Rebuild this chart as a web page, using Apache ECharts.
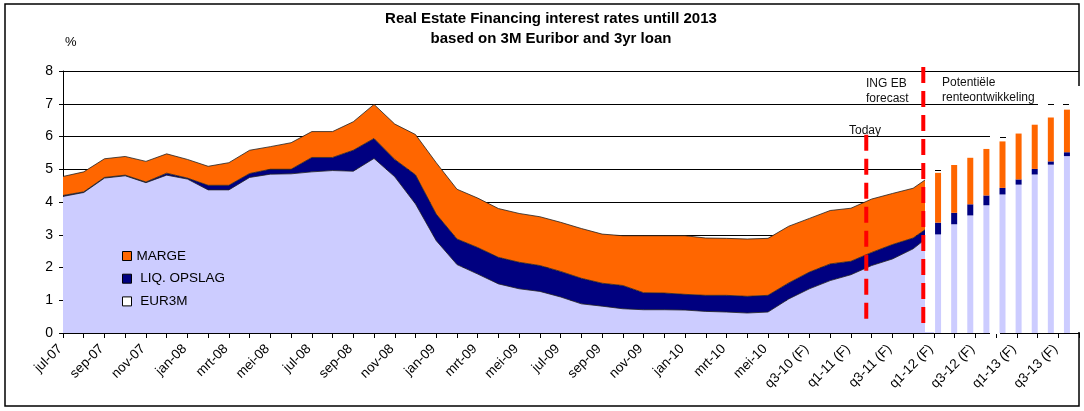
<!DOCTYPE html>
<html>
<head>
<meta charset="utf-8">
<script src="https://cdn.jsdelivr.net/npm/echarts@6/dist/echarts.min.js"></script>
<style>
html,body{margin:0;padding:0;background:#fff;}
#chart{width:1084px;height:411px;}
</style>
</head>
<body>
<div id="chart"></div>
<script>
// ---- category labels (monthly history, then quarterly forecast) ----
const categories = [
  'jul-07','aug-07','sep-07','okt-07','nov-07','dec-07',
  'jan-08','feb-08','mrt-08','apr-08','mei-08','jun-08','jul-08','aug-08','sep-08','okt-08','nov-08','dec-08',
  'jan-09','feb-09','mrt-09','apr-09','mei-09','jun-09','jul-09','aug-09','sep-09','okt-09','nov-09','dec-09',
  'jan-10','feb-10','mrt-10','apr-10','mei-10','jun-10',
  'q3-10 (F)','q4-10 (F)','q1-11 (F)','q2-11 (F)','q3-11 (F)','q4-11 (F)',
  'q1-12 (F)','q2-12 (F)','q3-12 (F)','q4-12 (F)','q1-13 (F)','q2-13 (F)','q3-13 (F)','q4-13 (F)'
];

// ---- stacked area values (%) ----
const eur3m = [
  4.17,4.29,4.73,4.80,4.59,4.82,4.70,4.37,4.37,4.75,4.85,4.86,4.92,4.96,4.94,5.33,4.77,3.94,
  2.82,2.09,1.80,1.50,1.35,1.27,1.10,0.89,0.82,0.74,0.71,0.71,0.70,0.66,0.64,0.61,0.64,
  1.04,1.35,1.60,1.78,2.06,2.26,2.57,3.07
];
const liqOpslag = [
  0.03,0.02,0.02,0.02,0.02,0.06,0.03,0.14,0.14,0.12,0.15,0.14,0.44,0.40,0.64,0.61,0.53,0.89,
  0.81,0.78,0.81,0.81,0.81,0.79,0.78,0.78,0.70,0.71,0.52,0.51,0.48,0.49,0.51,0.51,0.51,
  0.49,0.51,0.51,0.41,0.40,0.44,0.33,0.27
];
const marge = [
  0.58,0.61,0.57,0.57,0.63,0.59,0.57,0.58,0.69,0.71,0.69,0.81,0.79,0.79,0.87,1.04,1.08,1.23,
  1.57,1.52,1.51,1.49,1.49,1.49,1.50,1.52,1.50,1.52,1.74,1.75,1.79,1.75,1.74,1.75,1.74,
  1.73,1.64,1.63,1.62,1.63,1.56,1.52,1.52
];

// ---- "Potentiële renteontwikkeling" bars ----
const scenarioPeriods = ['P1','P2','P3','P4','P5','P6','P7','P8','P9'];
const scenarioEur3m   = [3.01,3.32,3.59,3.90,4.23,4.53,4.84,5.14,5.40];
const scenarioLiq     = [0.36,0.35,0.34,0.30,0.20,0.16,0.17,0.10,0.12];
const scenarioMarge   = [1.52,1.46,1.42,1.42,1.42,1.40,1.35,1.34,1.30];

// ---- y-axis ticks ----
const yTicks = [0,1,2,3,4,5,6,7,8];

// ---- marker lines (category position, top value, bottom value) ----
const todayMarker    = [38.74, 6.05, 0.30];
const forecastMarker = [41.49, 8.12, 0.30];

const FONT = 'Liberation Sans, Arial, sans-serif';
const C_EUR = '#CCCCFF', C_LIQ = '#000080', C_MARGE = '#FF6600';

const chart = echarts.init(document.getElementById('chart'));

function areaSeries(name, data, color){
  return {
    name, type:'line', stack:'hist', data, xAxisIndex:0, yAxisIndex:0,
    symbol:'none', smooth:false, z:2,
    itemStyle:{color},
    lineStyle:{color:'#222', width:0.8},
    areaStyle:{color, opacity:1}
  };
}
function barSeries(name, data, color){
  return {
    name, type:'bar', stack:'scen', data, xAxisIndex:2, yAxisIndex:1,
    barWidth:6, z:5, itemStyle:{color}
  };
}
function markerSeries(m){
  return {
    type:'line', xAxisIndex:1, yAxisIndex:0, symbol:'none', z:6, clip:false, silent:true,
    data:[[m[0], m[1]],[m[0], m[2]]],
    lineStyle:{color:'#FF0000', width:4, type:'dashed'}
  };
}
function gridDash(x, y){
  return {type:'line', z:4.5, shape:{x1:x, y1:y, x2:x+6, y2:y}, style:{stroke:'#000', lineWidth:1}};
}

const option = {
  animation:false,
  backgroundColor:'#fff',
  textStyle:{fontFamily:FONT},
  title:{
    text:'Real Estate Financing interest rates untill 2013',
    subtext:'based on 3M Euribor and 3yr loan',
    left:546, top:5, textAlign:'center', itemGap:2,
    textStyle:{fontFamily:FONT, fontSize:15, fontWeight:'bold', color:'#000', lineHeight:18},
    subtextStyle:{fontFamily:FONT, fontSize:15, fontWeight:'bold', color:'#000', lineHeight:18}
  },
  legend:{
    orient:'vertical', left:122, top:249, padding:0,
    icon:'rect', itemWidth:9, itemHeight:9, itemGap:8.7,
    itemStyle:{borderColor:'#000', borderWidth:1},
    textStyle:{fontFamily:FONT, fontSize:13.5, color:'#000', lineHeight:14},
    formatter: n => n === 'MARGE' ? n : ' ' + n,
    data:[
      {name:'MARGE'},
      {name:'LIQ. OPSLAG'},
      {name:'EUR3M', itemStyle:{color:'#ffffff'}}
    ]
  },
  grid:[
    {left:63, right:5, top:71, bottom:78},
    {left:930, width:145, top:71, bottom:78}
  ],
  xAxis:[
    {
      type:'category', gridIndex:0, data:categories, boundaryGap:false,
      axisLine:{lineStyle:{color:'#000', width:1}},
      axisTick:{show:true, interval:0, length:5, lineStyle:{color:'#000'}},
      axisLabel:{interval:1, rotate:45, fontSize:13.5, color:'#000', fontFamily:FONT, margin:11, padding:[0,4,0,0]},
      splitLine:{show:false}
    },
    {type:'value', gridIndex:0, min:0, max:categories.length-1, show:false},
    {type:'category', gridIndex:1, data:scenarioPeriods, show:false}
  ],
  yAxis:[
    {
      type:'value', gridIndex:0, min:yTicks[0], max:yTicks[yTicks.length-1], interval:1,
      name:'%', nameLocation:'end', nameGap:22,
      nameTextStyle:{fontFamily:FONT, fontSize:13, color:'#000', align:'left', padding:[0,0,0,2]},
      axisLine:{show:true, lineStyle:{color:'#000', width:1}},
      axisTick:{show:true, length:4, lineStyle:{color:'#000'}},
      axisLabel:{fontSize:14, color:'#000', fontFamily:FONT, margin:10},
      splitLine:{show:true, lineStyle:{color:'#000', width:1}}
    },
    {type:'value', gridIndex:1, min:0, max:8, show:false}
  ],
  graphic:[
    {type:'rect', z:4, shape:{x:5, y:4, width:1074, height:402}, style:{fill:'none', stroke:'#000', lineWidth:1.5}},
    {type:'rect', z:4, shape:{x:925, y:150, width:157, height:182}, style:{fill:'#fff'}},
    {type:'rect', z:4, shape:{x:990, y:120, width:92, height:30}, style:{fill:'#fff'}},
    {type:'rect', z:4, shape:{x:1038, y:86, width:44, height:34}, style:{fill:'#fff'}},
    {type:'rect', z:4, shape:{x:990, y:332.5, width:10, height:1.5}, style:{fill:'#fff'}},
    gridDash(935, 170.5), gridDash(1000, 137.5), gridDash(1048, 104.5), gridDash(1063, 104.5),
    {type:'text', z:7, left:866, top:76, style:{text:'ING EB\nforecast', fontFamily:FONT, fontSize:12, lineHeight:15, fill:'#111'}},
    {type:'text', z:7, left:849, top:123, style:{text:'Today', fontFamily:FONT, fontSize:12, lineHeight:15, fill:'#111'}},
    {type:'text', z:7, left:942, top:75, style:{text:'Potentiële\nrenteontwikkeling', fontFamily:FONT, fontSize:12, lineHeight:15, fill:'#111'}}
  ],
  series:[
    areaSeries('EUR3M', eur3m, C_EUR),
    areaSeries('LIQ. OPSLAG', liqOpslag, C_LIQ),
    areaSeries('MARGE', marge, C_MARGE),
    barSeries('EUR3M', scenarioEur3m, C_EUR),
    barSeries('LIQ. OPSLAG', scenarioLiq, C_LIQ),
    barSeries('MARGE', scenarioMarge, C_MARGE),
    markerSeries(todayMarker),
    markerSeries(forecastMarker)
  ]
};
chart.setOption(option);
</script>
</body>
</html>
